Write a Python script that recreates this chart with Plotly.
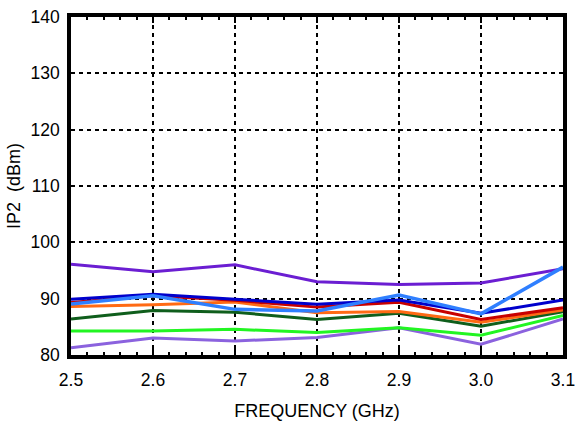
import plotly.graph_objects as go

freq = [2.5, 2.6, 2.7, 2.8, 2.9, 3.0, 3.1]

purple = [96.1, 94.8, 96.0, 93.0, 92.5, 92.8, 95.3]
lavender = [81.3, 83.0, 82.5, 83.1, 84.85, 81.9, 86.4]
green = [84.25, 84.25, 84.55, 84.0, 84.85, 83.5, 87.0]
dark_green = [86.4, 87.9, 87.6, 86.3, 87.4, 85.1, 87.7]
orange = [88.6, 88.9, 89.4, 87.5, 87.7, 85.8, 88.0]
red = [89.3, 90.5, 89.7, 88.5, 89.35, 86.3, 88.4]
dark_blue = [89.9, 90.8, 89.9, 89.0, 89.75, 87.4, 89.75]
light_blue = [89.05, 90.5, 88.1, 87.8, 90.65, 87.3, 95.6]

series = [
    ("purple", purple, "#6B1ED2", 3),
    ("lavender", lavender, "#8B62DE", 3),
    ("green", green, "#22F522", 3),
    ("dark green", dark_green, "#0F5E1C", 3),
    ("orange", orange, "#FF6A14", 3),
    ("red", red, "#C80000", 3),
    ("dark blue", dark_blue, "#0000CC", 3),
    ("light blue", light_blue, "#2F7FFF", 3.5),
]

fig = go.Figure()
for name, vals, color, w in series:
    fig.add_trace(go.Scatter(x=freq, y=vals, mode="lines", name=name,
                             line=dict(color=color, width=w)))

font = dict(family="Liberation Sans, Arial, sans-serif", size=17.5, color="black")

fig.update_layout(
    width=575, height=423,
    margin=dict(l=71, r=12, t=17, b=68),
    paper_bgcolor="white", plot_bgcolor="white",
    showlegend=False,
    font=font,
    xaxis=dict(
        range=[2.5, 3.1], tickmode="array",
        tickvals=[2.5, 2.6, 2.7, 2.8, 2.9, 3.0, 3.1],
        ticktext=["2.5", "2.6", "2.7", "2.8", "2.9", "3.0", "3.1"],
        showline=True, linecolor="black", linewidth=3.5, mirror="ticks",
        ticks="inside", ticklen=6, tickwidth=1.5, tickcolor="black",
        minor=dict(dtick=0.02, ticks="inside", ticklen=3, tickwidth=1.5, tickcolor="black", showgrid=False),
        showgrid=True, gridcolor="black", gridwidth=2, griddash="4px,4px",
        zeroline=False, automargin=False, ticklabelstandoff=6,
        ticklabeloverflow="allow",
        title=dict(text="FREQUENCY (GHz)", font=dict(size=18), standoff=17),
        tickfont=dict(size=17.5),
    ),
    yaxis=dict(
        range=[80, 140], tickmode="array",
        tickvals=[80, 90, 100, 110, 120, 130, 140],
        showline=True, linecolor="black", linewidth=3.5, mirror=True,
        ticks="",
        showgrid=True, gridcolor="black", gridwidth=2, griddash="4px,4px",
        zeroline=False, automargin=False, ticklabelstandoff=4,
        ticklabeloverflow="allow",
        title=dict(text="IP2  (dBm)", font=dict(size=18), standoff=6),
        tickfont=dict(size=17.5),
    ),
)

fig.write_html("out.html", config={"displayModeBar": False},
               post_script="document.body.style.margin='0';")
